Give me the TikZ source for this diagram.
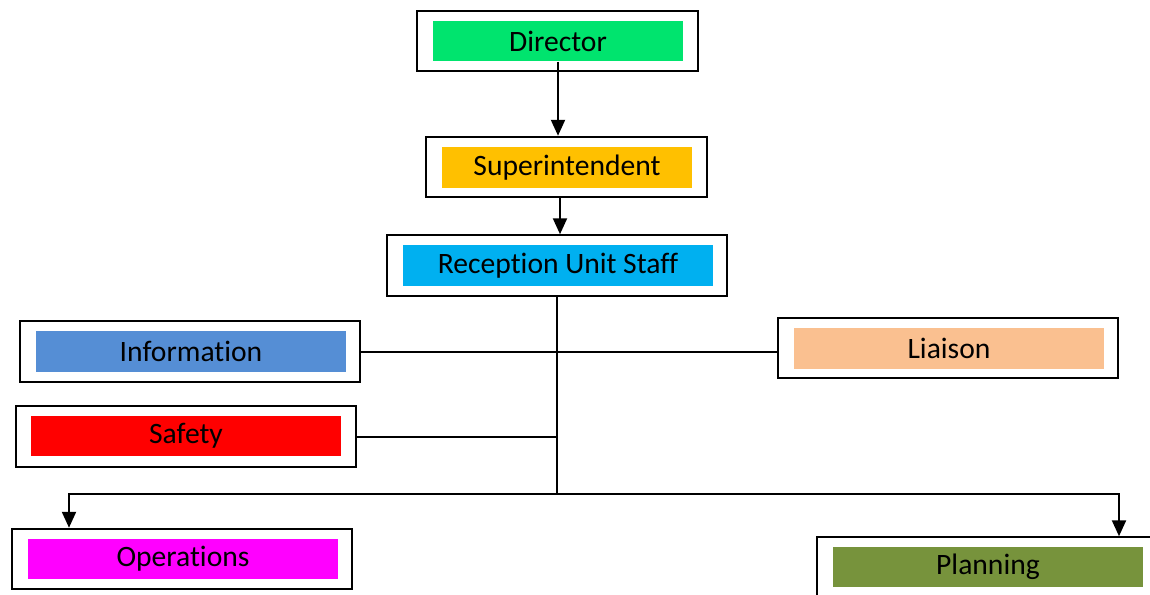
\documentclass[tikz,border=0pt]{standalone}
\usepackage{fontspec}
\setmainfont[Ligatures=NoCommon]{Carlito}
\usetikzlibrary{arrows.meta}
\definecolor{dirgreen}{RGB}{0,228,110}
\definecolor{supgold}{RGB}{255,192,0}
\definecolor{rusblue}{RGB}{0,176,240}
\definecolor{infoblue}{RGB}{85,142,213}
\definecolor{liaipeach}{RGB}{250,192,144}
\definecolor{opsmag}{RGB}{255,0,255}
\definecolor{planolive}{RGB}{119,147,60}
\tikzset{
  frame/.style={draw=black,line width=1pt,fill=white,inner sep=0pt,minimum height=30.25pt},
  narrow/.style={minimum width=140.5pt},
  wide/.style={minimum width=170pt},
  tag/.style={fill=#1,inner sep=0pt,minimum height=20.25pt,font=\fontsize{14.8}{17}\selectfont},
  tagn/.style={tag=#1,minimum width=125pt},
  tagw/.style={tag=#1,minimum width=155pt},
  link/.style={line width=1pt},
  arr/.style={line width=1.1pt,-{Triangle[length=8pt,width=7pt]}}
}
\begin{document}
\begin{tikzpicture}[x=0.5pt,y=-0.5pt]
\useasboundingbox (0,0) rectangle (1150,594);
% boxes
\node[frame,narrow] (dir) at (557.5,41) {};
\node[tagn=dirgreen] (dirL) at (558,41) {Director};
\node[frame,narrow] (sup) at (566,167) {};
\node[tagn=supgold] (supL) at (567,167.5) {Superintendent};
\node[frame,wide] (rus) at (557,265.5) {};
\node[tagw=rusblue] (rusL) at (558,265.5) {Reception Unit Staff};
\node[frame,wide] (info) at (190,351.5) {};
\node[tagw=infoblue] (infoL) at (191,351.5) {Information};
\node[frame,wide] (liai) at (948,348) {};
\node[tagw=liaipeach] (liaiL) at (949,348.5) {Liaison};
\node[frame,wide] (saf) at (186,436.5) {};
\node[tagw=red] (safL) at (186,436) {Safety};
\node[frame,wide] (ops) at (182,559) {};
\node[tagw=opsmag] (opsL) at (183,559) {Operations};
\node[frame,wide] (plan) at (987,567.5) {};
\node[tagw=planolive] (planL) at (988,567) {Planning};
\coordinate (hub) at (557,494);
% connectors
\draw[arr] (dirL.south) -- (dirL.south |- sup.north);
\draw[arr] ([xshift=-3pt]sup.south) -- ([xshift=-3pt]sup.south |- rus.north);
\draw[link] (rus.south) -- (hub);
\draw[link] (info.east) -- (info.east -| liai.west);
\draw[link] (saf.east) -- (saf.east -| rus.south);
\draw[arr] (hub) -| ([xshift=29pt]ops.north west);
\draw[arr] (hub) -| ([xshift=151.5pt]plan.north west);
\end{tikzpicture}
\end{document}
